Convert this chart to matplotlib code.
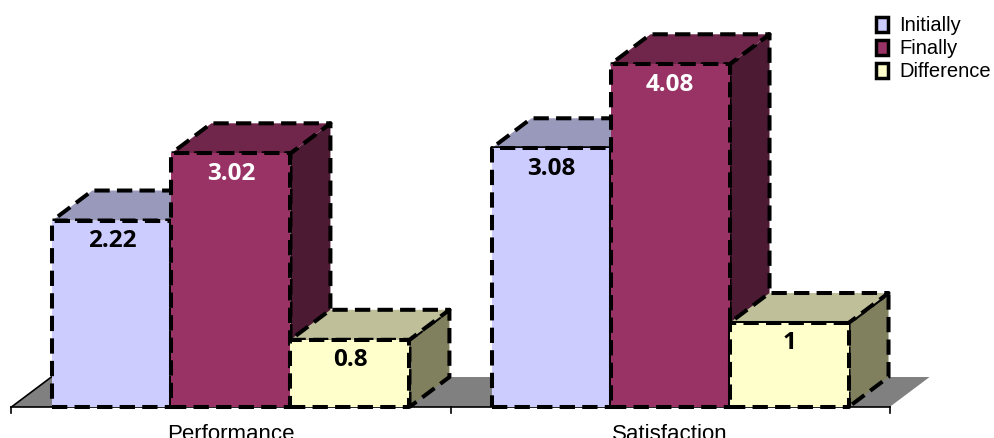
import numpy as np
import matplotlib
matplotlib.use('Agg')
import matplotlib.pyplot as plt
from matplotlib.patches import Polygon, Patch

# data
categories = ['Performance', 'Satisfaction']
series = ['Initially', 'Finally', 'Difference']
values = {
    'Initially': [2.22, 3.08],
    'Finally': [3.02, 4.08],
    'Difference': [0.8, 1.0],
}
value_labels = {
    'Initially': ['2.22', '3.08'],
    'Finally': ['3.02', '4.08'],
    'Difference': ['0.8', '1'],
}

# face colours: front, top, side
COLORS = {
    'Initially': ('#CCCCFF', '#9999BB', '#7A7A99'),
    'Finally': ('#993366', '#70264B', '#4C1A33'),
    'Difference': ('#FFFFCC', '#BFBF99', '#80805F'),
}
TEXT_COLORS = {'Initially': 'black', 'Finally': 'white', 'Difference': 'black'}

W = 0.271          # bar width in category units
DX, DY = 0.091, 0.357   # depth offset (x units, value units)
DASH = (0, (3.8, 1.8))
LW = 2.9

fig = plt.figure(figsize=(9.95, 4.38), dpi=100)
ax = fig.add_axes([0, 0, 1, 1])
ax.set_xlim(-0.526, 1.740)
ax.set_ylim(-0.369, 4.845)
ax.axis('off')

n = len(categories)
# floor
floor = Polygon([(-0.5, 0), (n - 0.5, 0), (n - 0.5 + DX, DY), (-0.5 + DX, DY)],
                closed=True, facecolor='#808080', edgecolor='none', zorder=1)
ax.add_patch(floor)
ax.plot([-0.5, -0.5 + DX], [0, DY], color='black', lw=1.2, zorder=2)
ax.plot([-0.5, n - 0.5], [0, 0], color='black', lw=1.2, zorder=2)
for b in np.arange(n + 1) - 0.5:
    ax.plot([b, b], [0, -0.075], color='black', lw=1.2, zorder=2)


def face(pts, color, z):
    ax.add_patch(Polygon(pts, closed=True, facecolor=color, edgecolor='none', zorder=z))
    xs = [p[0] for p in pts] + [pts[0][0]]
    ys = [p[1] for p in pts] + [pts[0][1]]
    ax.plot(xs, ys, color='black', lw=LW, linestyle=DASH, zorder=z + 0.5,
            solid_capstyle='butt', dash_capstyle='butt')


z = 3
for i, cat in enumerate(categories):
    for j, s in enumerate(series):
        h = values[s][i]
        x0 = i + (j - 1.5) * W
        x1 = x0 + W
        front, top, side = COLORS[s]
        face([(x1, 0), (x1, h), (x1 + DX, h + DY), (x1 + DX, DY)], side, z)
        face([(x0, h), (x1, h), (x1 + DX, h + DY), (x0 + DX, h + DY)], top, z + 1)
        face([(x0, 0), (x1, 0), (x1, h), (x0, h)], front, z + 2)
        ax.annotate(value_labels[s][i], (x0 + W / 2, h), xytext=(0, -6),
                    textcoords='offset points', ha='center', va='top',
                    fontsize=17.5, fontweight='bold', family='Open Sans',
                    color=TEXT_COLORS[s], zorder=z + 3)
        z += 4
    ax.annotate(cat, (i, 0), xytext=(0, -12), textcoords='offset points',
                ha='center', va='top', fontsize=16, family='Liberation Sans')

handles = [Patch(facecolor=COLORS[s][0], edgecolor='black', linewidth=2.5) for s in series]
fig.legend(handles, series, loc='upper left', bbox_to_anchor=(0.866, 0.995),
           frameon=False, prop={'family': 'Liberation Sans', 'size': 14.5},
           handlelength=0.6, handleheight=0.75, handletextpad=0.55,
           labelspacing=0.2, borderpad=0.2)

fig.savefig('out.png', dpi=100)
